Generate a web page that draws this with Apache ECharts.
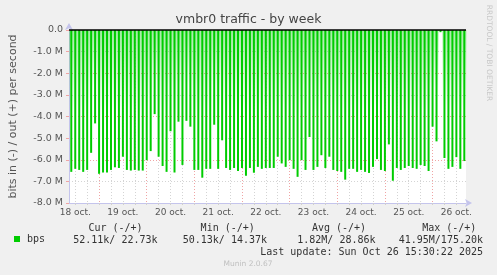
<!DOCTYPE html>
<html><head><meta charset="utf-8">
<script src="https://cdn.jsdelivr.net/npm/echarts@6/dist/echarts.min.js"></script>
<style>html,body{margin:0;padding:0;background:#f0f0f0;}#c{width:497px;height:275px;}</style>
</head><body><div id="c"></div>
<script>
// ---- data (hours counted from 18 oct. 00:00) ----
const axisStartHour = 8.85;
const axisEndHour = 208.85;
const spikeStartHour = 10;
const spikeStepHours = 2;
// inbound traffic per sample, in Mbit/s (plotted negative)
const inDepthsM = [
  6.56, 6.42, 6.47, 6.56, 6.47, 5.68, 4.32, 6.65, 6.59, 6.59, 6.47, 6.35, 6.38, 5.86, 6.47, 6.50, 6.47, 6.50, 6.50, 6.02, 5.60, 3.89, 5.86, 6.29, 6.56,
  4.68, 6.59, 4.24, 6.24, 4.20, 4.47, 6.47, 6.47, 6.83, 6.42, 6.42, 4.38, 6.42, 5.10, 6.38, 6.47, 6.38, 6.52, 6.38, 6.74, 6.38, 6.60, 6.33, 6.42, 6.38, 6.38,
  6.38, 5.86, 6.17, 6.33, 6.02, 6.42, 6.79, 6.02, 6.47, 4.95, 6.47, 6.33, 5.79, 6.38, 5.86, 6.47, 6.52, 6.56, 6.92, 6.42, 6.42, 6.56, 6.47, 6.56, 6.61,
  6.33, 5.97, 6.47, 6.52, 5.29, 6.97, 6.38, 6.47, 6.38, 6.29, 6.38, 6.42, 6.24, 6.29, 6.52, 4.47, 5.15, 0.10, 5.92, 6.42, 6.33, 5.88, 6.42, 6.06
];
const dayLabels = ['18 oct.', '19 oct.', '20 oct.', '21 oct.', '22 oct.', '23 oct.', '24 oct.', '25 oct.', '26 oct.'];
const dayLabelHours = [12, 36, 60, 84, 108, 132, 156, 180, 204];
const gridHours = [12, 18, 24, 30, 36, 42, 48, 54, 60, 66, 72, 78, 84, 90, 96, 102, 108, 114, 120, 126, 132, 138, 144, 150, 156, 162, 168, 174, 180, 186, 192, 198, 204];
const yMajorTicks = [-8, -7, -6, -5, -4, -3, -2, -1, 0];
const statHeaders = ['Cur (-/+)', 'Min (-/+)', 'Avg (-/+)', 'Max (-/+)'];
const statValues = ['52.11k/ 22.73k', '50.13k/ 14.37k', '1.82M/ 28.86k', '41.95M/175.20k'];
const lastUpdate = 'Last update: Sun Oct 26 15:30:22 2025';

// ---- chart ----
const GREEN = '#00cc00';
const RED_GRID = '#f0a4a4';
const GREY_GRID = '#d4d4d4';
const AXIS_BLUE = '#c4c4ec';
const SANS = 'DejaVu Sans';
const MONO = 'DejaVu Sans Mono';

const inData = inDepthsM.map((d, i) => [spikeStartHour + i * spikeStepHours, -d]);

const chart = echarts.init(document.getElementById('c'), null, {renderer: 'canvas'});
const headerX = [115.5, 227.7, 339, 449.3];
const valueRight = [157.5, 267, 375.5, 483];

const graphics = [];
statHeaders.forEach((t, i) => graphics.push({type: 'text', style: {text: t, x: headerX[i], y: 228, textAlign: 'center', textVerticalAlign: 'middle', font: '10px "' + MONO + '"', fill: '#333'}}));
statValues.forEach((t, i) => graphics.push({type: 'text', style: {text: t, x: valueRight[i], y: 240, textAlign: 'right', textVerticalAlign: 'middle', font: '10px "' + MONO + '"', fill: '#333'}}));
graphics.push({type: 'text', style: {text: lastUpdate, x: 483, y: 252, textAlign: 'right', textVerticalAlign: 'middle', font: '10px "' + MONO + '"', fill: '#333'}});
graphics.push({type: 'text', style: {text: 'Munin 2.0.67', x: 248, y: 264, textAlign: 'center', textVerticalAlign: 'middle', font: '7.5px "' + SANS + '"', fill: '#c0c0c0'}});
graphics.push({type: 'text', rotation: -Math.PI / 2, x: 489, y: 53, style: {text: 'RRDTOOL / TOBI OETIKER', x: 0, y: 0, textAlign: 'center', textVerticalAlign: 'middle', font: '7.5px "' + SANS + '"', fill: '#c8c8c8'}});

chart.setOption({
  animation: false,
  backgroundColor: '#f0f0f0',
  title: {text: 'vmbr0 traffic - by week', left: 'center', top: 13, padding: 0,
    textStyle: {fontFamily: SANS, fontSize: 12.5, fontWeight: 'normal', color: '#444'}},
  legend: {data: ['bps'], left: 14, top: 234, padding: 0, icon: 'rect', itemWidth: 6, itemHeight: 6,
    textStyle: {fontFamily: MONO, fontSize: 10, color: '#333', padding: [0, 0, 0, 2]}},
  grid: {left: 66, right: 31, top: 30, bottom: 72, show: true, backgroundColor: '#ffffff', borderWidth: 0},
  xAxis: [{
    type: 'value', min: axisStartHour, max: axisEndHour,
    axisLine: {onZero: false, lineStyle: {color: AXIS_BLUE, width: 1}, symbol: ['none', 'arrow'], symbolSize: [6, 7], symbolOffset: [0, 6]},
    axisTick: {show: true, length: 2, customValues: gridHours, lineStyle: {color: '#d0d0d0'}},
    axisLabel: {customValues: dayLabelHours, margin: 5, fontFamily: SANS, fontSize: 9, color: '#555',
      formatter: v => dayLabels[dayLabelHours.indexOf(v)] || ''},
    splitLine: {show: true, lineStyle: {color: [GREY_GRID, GREY_GRID, RED_GRID, GREY_GRID], type: [1, 2], width: 1}}
  }, {
    type: 'value', min: axisStartHour, max: axisEndHour, show: false
  }],
  yAxis: {
    type: 'value', min: -8, max: 0, interval: 0.5,
    name: 'bits in (-) / out (+) per second', nameLocation: 'middle', nameGap: 50,
    nameTextStyle: {fontFamily: SANS, fontSize: 11, color: '#555'},
    axisLine: {show: true, onZero: false, lineStyle: {color: AXIS_BLUE, width: 1}, symbol: ['none', 'arrow'], symbolSize: [6, 7], symbolOffset: [0, 7]},
    axisTick: {show: true, length: 3, customValues: yMajorTicks, lineStyle: {color: RED_GRID}},
    axisLabel: {margin: 6, fontFamily: SANS, fontSize: 9.5, color: '#555',
      formatter: v => Number.isInteger(v) ? (v === 0 ? '0.0' : v.toFixed(1) + ' M') : ''},
    splitLine: {show: true, lineStyle: {color: [RED_GRID, GREY_GRID], type: [1, 2], width: 1}}
  },
  series: [{
    name: 'bps-shade', type: 'bar', xAxisIndex: 1, data: inData, barWidth: 4, silent: true, z: 1,
    itemStyle: {color: {type: 'linear', x: 0, y: 0, x2: 0, y2: 1, colorStops: [
      {offset: 0, color: 'rgba(0,204,0,0.38)'}, {offset: 0.4, color: 'rgba(0,204,0,0.1)'}, {offset: 0.6, color: 'rgba(0,204,0,0)'}]}}
  }, {
    name: 'bps', type: 'bar', xAxisIndex: 0, data: inData, barWidth: 2, z: 2,
    itemStyle: {color: GREEN},
    markLine: {symbol: 'none', silent: true, label: {show: false}, lineStyle: {color: '#000', width: 1.5, type: 'solid'}, data: [{yAxis: 0}]}
  }],
  graphic: graphics
});
</script></body></html>
